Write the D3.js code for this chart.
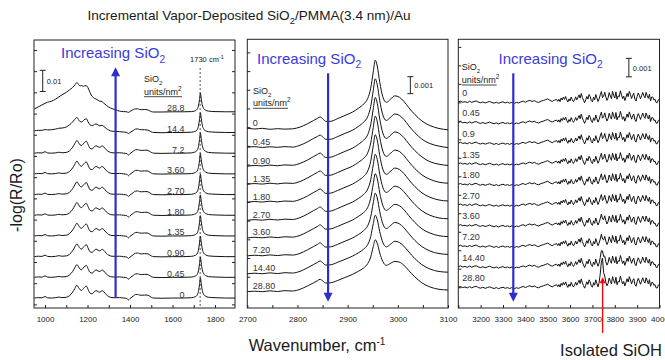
<!DOCTYPE html>
<html>
<head>
<meta charset="utf-8">
<script src="https://cdn.jsdelivr.net/npm/d3@7"></script>
<style>
  body { margin: 0; background: #fff; }
  svg text { font-family: 'Liberation Sans', Arial, Helvetica, sans-serif; }
</style>
</head>
<body>
<svg id="chart" width="665" height="360"></svg>
<script>
// ---- data (absorbance values in units of 0.001) ----

// panel 1, 900-1900 cm-1, traces listed bottom to top
const cov1 = ["0", "0.45", "0.90", "1.35", "1.80", "2.70", "3.60", "7.2", "14.4", "28.8"];
const wn1 = [950, 970, 985, 1000, 1012, 1030, 1050, 1065, 1080, 1100, 1115, 1130, 1140, 1150, 1158,
  1165, 1172, 1180, 1188, 1195, 1202, 1212, 1222, 1232, 1240, 1250, 1258, 1268, 1276, 1288,
  1300, 1315, 1330, 1350, 1370, 1385, 1392, 1400, 1415, 1425, 1435, 1445, 1455, 1468, 1480,
  1490, 1500, 1512, 1550, 1600, 1650, 1690, 1705, 1712, 1718, 1723, 1727, 1731, 1735, 1740,
  1746, 1755, 1770, 1800, 1850, 1894];
// 0 ... 7.2 units/nm2 look alike at this scale
const p1Low = [0, 0.2, 0.1, 0.7, 0.1, 0, 0.15, 0.45, 0.2, 0.35, 1.1, 2.8, 4.5, 6.0, 4.9,
  3.9, 3.6, 4.4, 5.3, 5.6, 4.2, 2.3, 2.0, 3.0, 3.5, 3.0, 2.7, 3.5, 3.0, 1.6,
  0.7, 0.2, 0.15, 0.2, 0, -0.2, -0.9, -0.2, 0.9, 1.6, 1.7, 1.4, 1.3, 1.4, 1.4,
  1.0, 0.35, 0, -0.1, 0, 0, 0.15, 0.55, 0.9, 1.8, 3.6, 6.5, 9.6, 6.9, 3.6,
  1.8, 0.9, 0.35, 0.15, 0, 0];
const p1Cov144 = [0.8, 1.0, 1.0, 1.4, 1.2, 1.3, 1.6, 2.0, 2.1, 2.6, 3.6, 5.0, 6.2, 7.1, 6.0,
  5.1, 5.0, 5.6, 6.3, 6.4, 5.1, 3.6, 3.2, 3.8, 4.0, 3.5, 3.1, 3.4, 2.9, 1.9,
  1.1, 0.6, 0.5, 0.4, 0.2, 0, -0.5, 0, 0.9, 1.6, 1.7, 1.4, 1.3, 1.3, 1.2,
  0.9, 0.3, 0, -0.1, 0, 0, 0.15, 0.5, 0.85, 1.7, 3.5, 6.3, 9.3, 6.7, 3.5,
  1.7, 0.85, 0.35, 0.15, 0, 0];
const p1Cov288 = [1.4, 2.4, 3.2, 4.0, 4.5, 5.0, 6.0, 7.0, 8.0, 9.2, 10.3, 11.5, 12.6, 13.8, 12.8,
  12.2, 12.4, 12.0, 12.3, 12.3, 11.4, 9.0, 7.2, 6.4, 6.0, 5.4, 5.0, 4.8, 4.1, 3.1,
  2.2, 1.5, 1.0, 0.3, 0.1, 0, -0.3, 0.2, 1.0, 1.4, 1.4, 1.1, 1.0, 1.1, 1.0,
  0.6, 0.1, -0.1, -0.1, 0, 0, 0.1, 0.4, 0.8, 1.6, 3.2, 5.8, 8.9, 6.3, 3.3,
  1.6, 0.8, 0.3, 0.1, 0, 0];
const p1Series = [p1Low, p1Low, p1Low, p1Low, p1Low, p1Low, p1Low, p1Low, p1Cov144, p1Cov288];

// panel 2, C-H stretch region, traces listed top to bottom
const cov2 = ["0", "0.45", "0.90", "1.35", "1.80", "2.70", "3.60", "7.20", "14.40", "28.80"];
const wn2 = [2700, 2715, 2730, 2745, 2760, 2775, 2790, 2805, 2820, 2832, 2840, 2845, 2850, 2856, 2865,
  2880, 2895, 2910, 2922, 2932, 2940, 2946, 2951, 2955, 2959, 2964, 2970, 2977, 2986, 2994,
  3003, 3012, 3022, 3034, 3048, 3064, 3082, 3100];
const p2Cov0 = [0.10, 0.05, 0.09, 0.03, 0.07, 0.04, 0.06, 0.16, 0.36, 0.55, 0.68, 0.76, 0.66, 0.50, 0.50,
  0.66, 0.85, 1.05, 1.28, 1.52, 1.85, 2.45, 3.40, 4.10, 3.75, 2.80, 1.95, 1.62, 1.82, 2.00,
  1.92, 1.68, 1.30, 0.90, 0.52, 0.25, 0.08, 0.00];
const p2Cov045 = [0.02, 0.06, 0.01, 0.05, 0.02, 0.06, 0.03, 0.14, 0.34, 0.54, 0.66, 0.74, 0.64, 0.49, 0.49,
  0.65, 0.84, 1.03, 1.26, 1.50, 1.83, 2.42, 3.36, 4.05, 3.70, 2.76, 1.93, 1.60, 1.80, 1.98,
  1.90, 1.66, 1.28, 0.88, 0.50, 0.24, 0.09, 0.00];
const p2Cov090 = [-0.05, 0.00, -0.03, 0.02, -0.02, 0.03, 0.01, 0.12, 0.32, 0.52, 0.65, 0.73, 0.62, 0.47, 0.48,
  0.64, 0.83, 1.02, 1.25, 1.49, 1.81, 2.40, 3.32, 4.00, 3.66, 2.73, 1.91, 1.59, 1.79, 1.97,
  1.88, 1.64, 1.27, 0.87, 0.50, 0.22, 0.07, 0.00];
const p2Cov135 = [-0.06, -0.02, -0.05, 0.00, -0.04, 0.01, -0.01, 0.10, 0.31, 0.51, 0.64, 0.72, 0.61, 0.46, 0.47,
  0.63, 0.82, 1.01, 1.24, 1.47, 1.79, 2.37, 3.28, 3.95, 3.62, 2.70, 1.90, 1.58, 1.77, 1.95,
  1.87, 1.63, 1.26, 0.86, 0.49, 0.23, 0.06, 0.00];
const p2Cov180 = [-0.07, -0.03, -0.06, -0.01, -0.05, 0.00, -0.02, 0.09, 0.30, 0.50, 0.63, 0.71, 0.60, 0.45, 0.46,
  0.62, 0.81, 1.00, 1.22, 1.45, 1.77, 2.34, 3.24, 3.90, 3.58, 2.67, 1.88, 1.57, 1.76, 1.94,
  1.86, 1.62, 1.25, 0.85, 0.48, 0.22, 0.06, 0.00];
const p2Cov270 = [-0.09, -0.05, -0.08, -0.03, -0.07, -0.02, -0.04, 0.07, 0.28, 0.48, 0.61, 0.70, 0.59, 0.44, 0.45,
  0.61, 0.80, 0.99, 1.21, 1.44, 1.75, 2.30, 3.17, 3.80, 3.49, 2.62, 1.86, 1.55, 1.74, 1.92,
  1.84, 1.60, 1.24, 0.84, 0.47, 0.21, 0.05, 0.00];
const p2Cov360 = [-0.08, -0.04, -0.07, -0.02, -0.06, -0.01, -0.03, 0.07, 0.28, 0.47, 0.60, 0.69, 0.58, 0.44, 0.45,
  0.60, 0.79, 0.98, 1.20, 1.42, 1.72, 2.26, 3.10, 3.70, 3.41, 2.57, 1.84, 1.54, 1.73, 1.90,
  1.82, 1.59, 1.23, 0.83, 0.46, 0.21, 0.05, 0.00];
const p2Cov720 = [-0.09, -0.05, -0.08, -0.03, -0.07, -0.02, -0.04, 0.06, 0.27, 0.46, 0.59, 0.68, 0.57, 0.43, 0.44,
  0.59, 0.78, 0.97, 1.18, 1.40, 1.69, 2.21, 3.03, 3.60, 3.32, 2.51, 1.81, 1.52, 1.71, 1.88,
  1.80, 1.57, 1.22, 0.82, 0.46, 0.20, 0.05, 0.00];
const p2Cov1440 = [-0.10, -0.06, -0.09, -0.04, -0.08, -0.03, -0.05, 0.05, 0.26, 0.45, 0.58, 0.66, 0.56, 0.42, 0.43,
  0.58, 0.76, 0.95, 1.15, 1.36, 1.63, 2.10, 2.85, 3.35, 3.10, 2.38, 1.76, 1.49, 1.66, 1.82,
  1.75, 1.53, 1.19, 0.80, 0.44, 0.19, 0.04, 0.00];
const p2Cov2880 = [-0.10, -0.07, -0.10, -0.05, -0.09, -0.04, -0.06, 0.04, 0.24, 0.42, 0.55, 0.63, 0.54, 0.41, 0.42,
  0.56, 0.74, 0.92, 1.11, 1.30, 1.55, 1.95, 2.55, 2.95, 2.75, 2.18, 1.68, 1.45, 1.58, 1.68,
  1.64, 1.46, 1.14, 0.77, 0.42, 0.18, 0.04, 0.00];
const p2Series = [p2Cov0, p2Cov045, p2Cov090, p2Cov135, p2Cov180, p2Cov270, p2Cov360, p2Cov720, p2Cov1440, p2Cov2880];

// panel 3, O-H region, traces listed top to bottom
const cov3 = ["0", "0.45", "0.9", "1.35", "1.80", "2.70", "3.60", "7.20", "14.40", "28.80"];
const wn3 = d3.range(3100, 3545, 10).concat(d3.range(3545, 4001, 5));
const p3Base = [0, 0.04, -0.02, 0.01, -0.04, 0.03, -0.03, 0.02, 0.05, -0.02,
  -0.05, 0.0, -0.06, -0.02, 0.02, -0.03, -0.07, -0.02, -0.08, -0.03,
  0.0, -0.06, -0.02, -0.07, -0.02, -0.08, -0.03, -0.06, 0.0, 0.04,
  -0.02, 0.04, 0.08, 0.02, 0.07, 0.0, -0.03, 0.04, 0.07, 0.12,
  0.16, 0.08, 0.02, 0.09, 0.13,
  0.03, 0.14, 0.01, 0.21, 0.10, 0.26, 0.13, 0.29, 0.11, -0.01,
  0.16, 0.05, 0.26, 0.12, 0.01, 0.11, 0.27, 0.11, 0.24, 0.38,
  0.20, 0.45, 0.24, 0.09, -0.05, 0.11, 0.29, 0.15, 0.40, 0.29,
  0.07, 0.00, 0.25, 0.11, 0.40, 0.20, 0.02, 0.16, 0.38, 0.56,
  0.23, 0.30, 0.52, 0.26, 0.08, 0.21, 0.50, 0.32, 0.18, 0.57,
  0.36, 0.21, 0.54, 0.14, 0.32, 0.28, 0.60, 0.38, 0.17, 0.31,
  0.07, 0.25, 0.46, 0.28, 0.57, 0.39, 0.18, 0.36, 0.46, 0.14,
  0.05, 0.30, 0.48, 0.34, 0.16, 0.33, 0.51, 0.33, 0.22, 0.51,
  0.34, 0.19, 0.41, 0.05, 0.26, 0.26, 0.10, 0.14, -0.04, -0.04,
  0.12, 0.14];
// isolated SiOH band on top of the background, per trace (top to bottom)
const wnSioh = [3730, 3735, 3740, 3745, 3750, 3755];
const siohBands = [
  [0, 0, 0, 0, 0, 0], [0, 0, 0, 0, 0, 0], [0, 0, 0, 0, 0, 0], [0, 0, 0, 0, 0, 0], [0, 0, 0, 0, 0, 0],
  [0, 0, 0, 0, 0, 0], [0, 0, 0.05, 0.12, 0.02, 0], [0, 0, 0.08, 0.15, 0.03, 0],
  [0.03, 0.12, 0.30, 0.62, 0.25, 0.05], [0.10, 0.35, 0.80, 1.35, 0.50, 0.08]
];

// ---- layout ----
const svg = d3.select("#chart");
const x1 = d3.scaleLinear().domain([948, 1894]).range([34, 235]);
const y1 = d3.scaleLinear().domain([-1.7, 124.7]).range([308, 40]);
const x2 = d3.scaleLinear().domain([2700, 3100]).range([247.3, 448]);
const y2 = d3.scaleLinear().domain([-1.06, 14.75]).range([308, 39.3]);
const x3 = d3.scaleLinear().domain([3100, 4000]).range([458.3, 659.5]);
const y3 = d3.scaleLinear().domain([-1.124, 13.41]).range([308, 39.3]);

const p1Base = 3, p1Step = 9.76;   // stacking offsets
const p2Step = 1.047, p3Step = 1.114;
const blue = "#2d2dcc", ink = "#1a1a1a";

function frame(x, y) {
  const [xa, xb] = x.range(), [yb, ya] = y.range();
  svg.append("rect")
    .attr("x", xa).attr("y", ya).attr("width", xb - xa).attr("height", yb - ya)
    .attr("fill", "none").attr("stroke", "#222").attr("stroke-width", 1);
}

function bottomAxis(x, y, ticks, showLabel) {
  const g = svg.append("g")
    .attr("transform", `translate(0,${y.range()[0]})`)
    .call(d3.axisBottom(x).tickValues(ticks).tickSizeInner(-3).tickSizeOuter(0).tickPadding(8)
      .tickFormat(d => showLabel(d) ? d : ""));
  g.select(".domain").remove();
  g.selectAll(".tick line").attr("stroke", "#222");
  g.selectAll(".tick text").attr("font-size", 8).attr("fill", "#222")
    .attr("font-family", "'Liberation Sans', Arial, sans-serif");
}

function sideTicks(x, y, ticks, onRight) {
  const ax = onRight ? d3.axisRight(y) : d3.axisLeft(y);
  const g = svg.append("g")
    .attr("transform", `translate(${onRight ? x.range()[1] : x.range()[0]},0)`)
    .call(ax.tickValues(ticks).tickSizeInner(-3).tickSizeOuter(0).tickFormat(""));
  g.select(".domain").remove();
  g.selectAll(".tick line").attr("stroke", "#222");
}

function subText(x, y, main, sub, size, fill, anchor) {
  const t = svg.append("text").attr("x", x).attr("y", y)
    .attr("font-size", size).attr("fill", fill).attr("text-anchor", anchor || "start");
  t.append("tspan").text(main);
  t.append("tspan").attr("dy", size * 0.3).attr("font-size", size * 0.68).text(sub);
  return t;
}

function header(x, ySio, yUnits, ulen) {
  subText(x, ySio + 3, "SiO", "2", 9, ink);
  const t = svg.append("text").attr("x", x).attr("y", yUnits + 3).attr("font-size", 9).attr("fill", ink);
  t.append("tspan").text("units/nm");
  t.append("tspan").attr("dy", -4).attr("font-size", 6.5).text("2");
  svg.append("line").attr("x1", x).attr("x2", x + ulen)
    .attr("y1", yUnits + 5).attr("y2", yUnits + 5).attr("stroke", ink).attr("stroke-width", 0.8);
}

function scaleBar(x, yLo, yHi, label) {
  const g = svg.append("g").attr("stroke", "#222").attr("stroke-width", 1);
  g.append("line").attr("x1", x).attr("x2", x).attr("y1", yLo).attr("y2", yHi);
  g.append("line").attr("x1", x - 3).attr("x2", x + 3).attr("y1", yLo).attr("y2", yLo);
  g.append("line").attr("x1", x - 3).attr("x2", x + 3).attr("y1", yHi).attr("y2", yHi);
  svg.append("text").attr("x", x + 4).attr("y", (yLo + yHi) / 2 + 3)
    .attr("font-size", 7.5).attr("fill", ink).text(label);
}

function arrow(x, yFrom, yTo, color, width, head) {
  const s = Math.sign(yFrom - yTo);
  svg.append("line").attr("x1", x).attr("x2", x)
    .attr("y1", yFrom).attr("y2", yTo + s * head * 0.8)
    .attr("stroke", color).attr("stroke-width", width);
  svg.append("path")
    .attr("d", `M${x},${yTo} L${x - head / 2},${yTo + s * head} L${x + head / 2},${yTo + s * head} Z`)
    .attr("fill", color);
}

function increasing(x, y) {
  subText(x, y, "Increasing SiO", "2", 15, "#3b3bdc");
}

// ---- title and axis titles ----
const title = svg.append("text").attr("x", 249).attr("y", 20).attr("text-anchor", "middle")
  .attr("font-size", 13.6).attr("fill", ink);
title.append("tspan").text("Incremental Vapor-Deposited SiO");
title.append("tspan").attr("dy", 4).attr("font-size", 9.5).text("2");
title.append("tspan").attr("dy", -4).text("/PMMA(3.4 nm)/Au");

svg.append("text").attr("transform", "translate(22,195) rotate(-90)")
  .attr("text-anchor", "middle").attr("font-size", 16).attr("fill", ink).text("-log(R/Ro)");

const xt = svg.append("text").attr("x", 317).attr("y", 351).attr("text-anchor", "middle")
  .attr("font-size", 16.5).attr("fill", ink);
xt.append("tspan").text("Wavenumber, cm");
xt.append("tspan").attr("dy", -6).attr("font-size", 10).text("-1");

// ---- panel 1 ----
frame(x1, y1);
bottomAxis(x1, y1, d3.range(1000, 1894, 100), d => d % 200 === 0);
sideTicks(x1, y1, d3.range(0, 124, 10), false);
sideTicks(x1, y1, d3.range(0, 124, 10), true);

svg.append("line")
  .attr("x1", x1(1730)).attr("x2", x1(1730)).attr("y1", y1(111.5)).attr("y2", y1(-1.7))
  .attr("stroke", "#222").attr("stroke-width", 0.8).attr("stroke-dasharray", "2,2");

const line1 = d3.line().x(d => x1(d[0])).y(d => y1(d[1])).curve(d3.curveMonotoneX);
p1Series.forEach((vals, k) => {
  const off = p1Base + k * p1Step;
  svg.append("path").datum(wn1.map((w, i) => [w, vals[i] + off]))
    .attr("fill", "none").attr("stroke", "#111").attr("stroke-width", 1).attr("d", line1);
  svg.append("text").attr("x", x1(1656)).attr("y", y1(off) - 0.5)
    .attr("text-anchor", "end").attr("font-size", 9).attr("fill", "#333").text(cov1[k]);
});

const t1730 = svg.append("text").attr("x", x1(1762)).attr("y", 62).attr("text-anchor", "middle")
  .attr("font-size", 7.5).attr("fill", ink);
t1730.append("tspan").text("1730 cm");
t1730.append("tspan").attr("dy", -3).attr("font-size", 5.5).text("-1");

header(144, 79.3, 91.7, 38);
scaleBar(x1(989), y1(100.4), y1(110.4), "0.01");
increasing(61, 58);
arrow(x1(1332), y1(3.2), y1(111.8), blue, 2.2, 9);

// ---- panel 2 ----
frame(x2, y2);
bottomAxis(x2, y2, d3.range(2700, 3101, 50), d => d % 100 === 0);
sideTicks(x2, y2, d3.range(0.78, 14.6, 1.1), false);

const line2 = d3.line().x(d => x2(d[0])).y(d => y2(d[1])).curve(d3.curveMonotoneX);
p2Series.forEach((vals, i) => {
  const off = (9 - i) * p2Step;
  svg.append("path").datum(wn2.map((w, j) => [w, vals[j] + off]))
    .attr("fill", "none").attr("stroke", "#111").attr("stroke-width", 1).attr("d", line2);
  svg.append("text").attr("x", x2(2711)).attr("y", y2(off + vals[0]) - 2.5)
    .attr("font-size", 9).attr("fill", "#333").text(cov2[i]);
});

header(253, 91, 103.3, 35);
scaleBar(x2(3025), y2(11.55), y2(12.55), "0.001");
increasing(257, 63.5);
arrow(x2(2861), y2(12.75), y2(-0.69), blue, 2.2, 9);

// ---- panel 3 ----
frame(x3, y3);
bottomAxis(x3, y3, d3.range(3100, 4001, 100), d => d !== 3100);
sideTicks(x3, y3, d3.range(0, 13.4, 1), false);

const line3 = d3.line().x(d => x3(d[0])).y(d => y3(d[1]));
siohBands.forEach((band, i) => {
  const off = (9 - i) * p3Step;
  const pts = wn3.map((w, j) => {
    const b = wnSioh.indexOf(w);
    return [w, p3Base[j] + (b >= 0 ? band[b] : 0) + off];
  });
  svg.append("path").datum(pts)
    .attr("fill", "none").attr("stroke", "#111").attr("stroke-width", 1).attr("d", line3);
  svg.append("text").attr("x", x3(3118)).attr("y", y3(off) - 6)
    .attr("font-size", 9).attr("fill", "#333").text(cov3[i]);
});

header(461.7, 67.3, 80, 35);
scaleBar(x3(3863), y3(11.38), y3(12.38), "0.001");
increasing(498.5, 63.5);
arrow(x3(3346), y3(11.57), y3(-0.78), blue, 2.2, 9);

// isolated SiOH annotation
arrow(x3(3745.5), y3(-2.47), y3(0.54), "#ff0000", 1.3, 6);
svg.append("text").attr("x", 611).attr("y", 356).attr("text-anchor", "middle")
  .attr("font-size", 16.5).attr("fill", ink).text("Isolated SiOH");
</script>
</body>
</html>
